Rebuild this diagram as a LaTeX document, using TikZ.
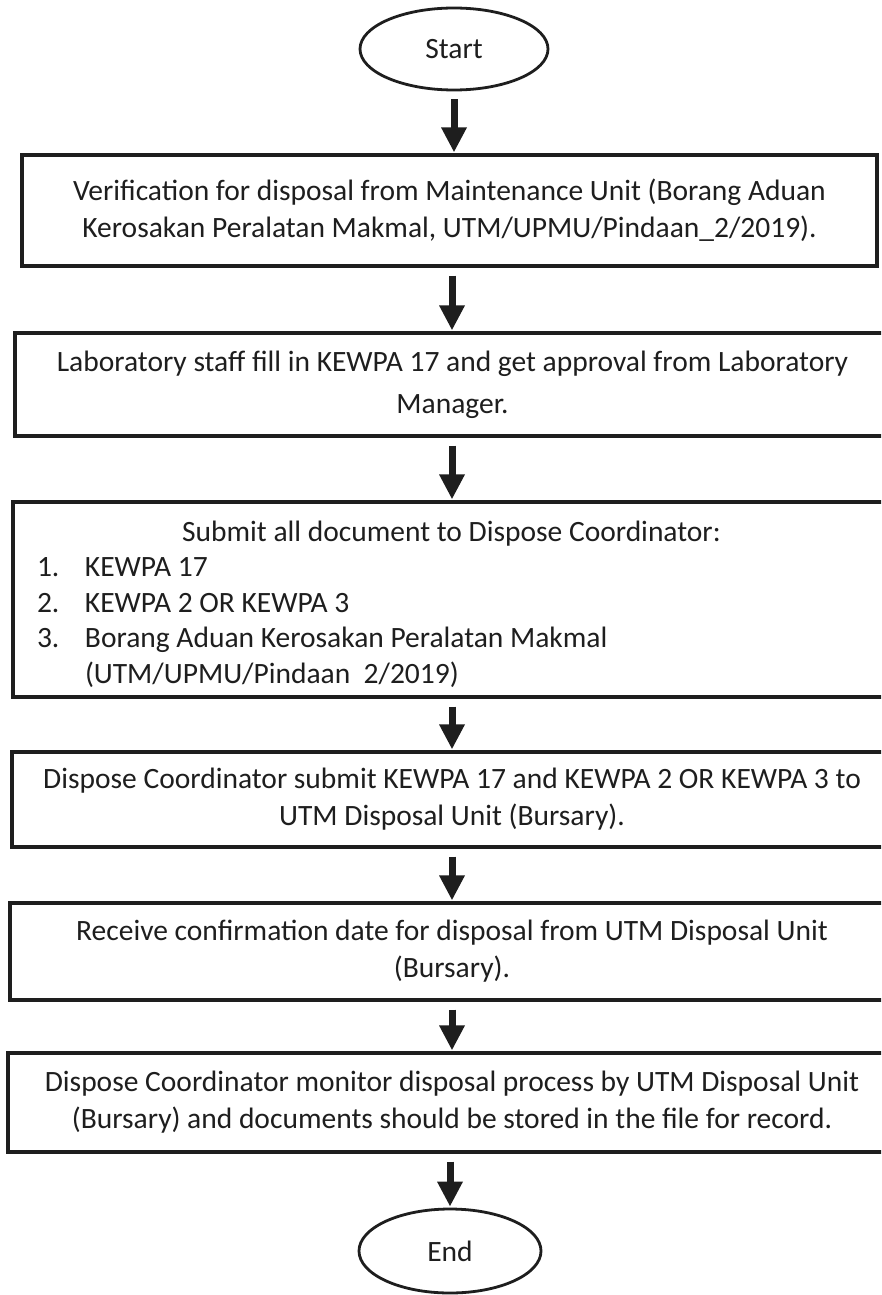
\documentclass[tikz,border=0pt]{standalone}
\usepackage{fontspec}
\setmainfont{Carlito}
\usetikzlibrary{shapes.geometric,arrows.meta,calc}
\definecolor{ink}{HTML}{1E1E1E}
\begin{document}
\begin{tikzpicture}[x=1pt,y=-1pt,
  every node/.style={font=\fontsize{29.5}{37}\selectfont, text=ink},
  terminal/.style={draw=ink, line width=2.8pt, ellipse, inner sep=0pt},
  stepbox/.style={draw=ink, line width=3.2pt, rectangle, inner sep=0pt, align=center},
  arr/.style={draw=ink, line width=7pt, -{Triangle[width=24pt,length=25pt]}, shorten <=8pt, shorten >=1pt}
]
\clip (0,0) rectangle (881,1295);
\fill[white] (0,0) rectangle (881,1295);

\node[terminal, minimum width=188pt, minimum height=82pt] (start) at (454,49) {Start};

\node[stepbox, minimum width=855pt, minimum height=111pt] (b1) at (449.5,210.5)
  {Verification for disposal from Maintenance Unit (Borang Aduan\\Kerosakan Peralatan Makmal, UTM/UPMU/Pindaan\_2/2019).};

\node[stepbox, minimum width=875pt, minimum height=103pt,
      font=\fontsize{29.5}{42}\selectfont] (b2) at (452.5,384.5)
  {Laboratory staff fill in KEWPA 17 and get approval from Laboratory\\Manager.};

\node[draw=ink, line width=3.2pt, rectangle, minimum height=195pt,
      inner xsep=24pt, inner ysep=0pt, text width=829pt, align=flush left,
      font=\fontsize{29.5}{35.5}\selectfont] (b3) at (451.5,599.5)
  {\makebox[829pt][c]{\rule{0pt}{30pt}Submit all document to Dispose Coordinator:}\\
   \makebox[48pt][l]{1.}KEWPA 17\\
   \makebox[48pt][l]{2.}KEWPA 2 OR KEWPA 3\\
   \makebox[48pt][l]{3.}Borang Aduan Kerosakan Peralatan Makmal\\
   \hspace*{48pt}(UTM/UPMU/Pindaan\ \ 2/2019)};

\node[stepbox, minimum width=880pt, minimum height=95pt] (b4) at (452,799.5)
  {Dispose Coordinator submit KEWPA 17 and KEWPA 2 OR KEWPA 3 to\\UTM Disposal Unit (Bursary).};

\node[stepbox, minimum width=884pt, minimum height=97pt] (b5) at (452,951.5)
  {Receive confirmation date for disposal from UTM Disposal Unit\\(Bursary).};

\node[stepbox, minimum width=888pt, minimum height=99pt] (b6) at (452,1102.5)
  {Dispose Coordinator monitor disposal process by UTM Disposal Unit\\(Bursary) and documents should be stored in the file for record.};

\node[terminal, minimum width=182pt, minimum height=84pt] (end) at (450,1251) {End};

\coordinate (ax) at (452,0);
\draw[arr] (start.south) -- (start.south |- b1.north);
\draw[arr] (b1.south -| ax) -- (b2.north -| ax);
\draw[arr] (b2.south -| ax) -- (b3.north -| ax);
\draw[arr] (b3.south -| ax) -- (b4.north -| ax);
\draw[arr] (b4.south -| ax) -- (b5.north -| ax);
\draw[arr] (b5.south -| ax) -- (b6.north -| ax);
\draw[arr] (b6.south -| end.north) -- (end.north);
\end{tikzpicture}
\end{document}
